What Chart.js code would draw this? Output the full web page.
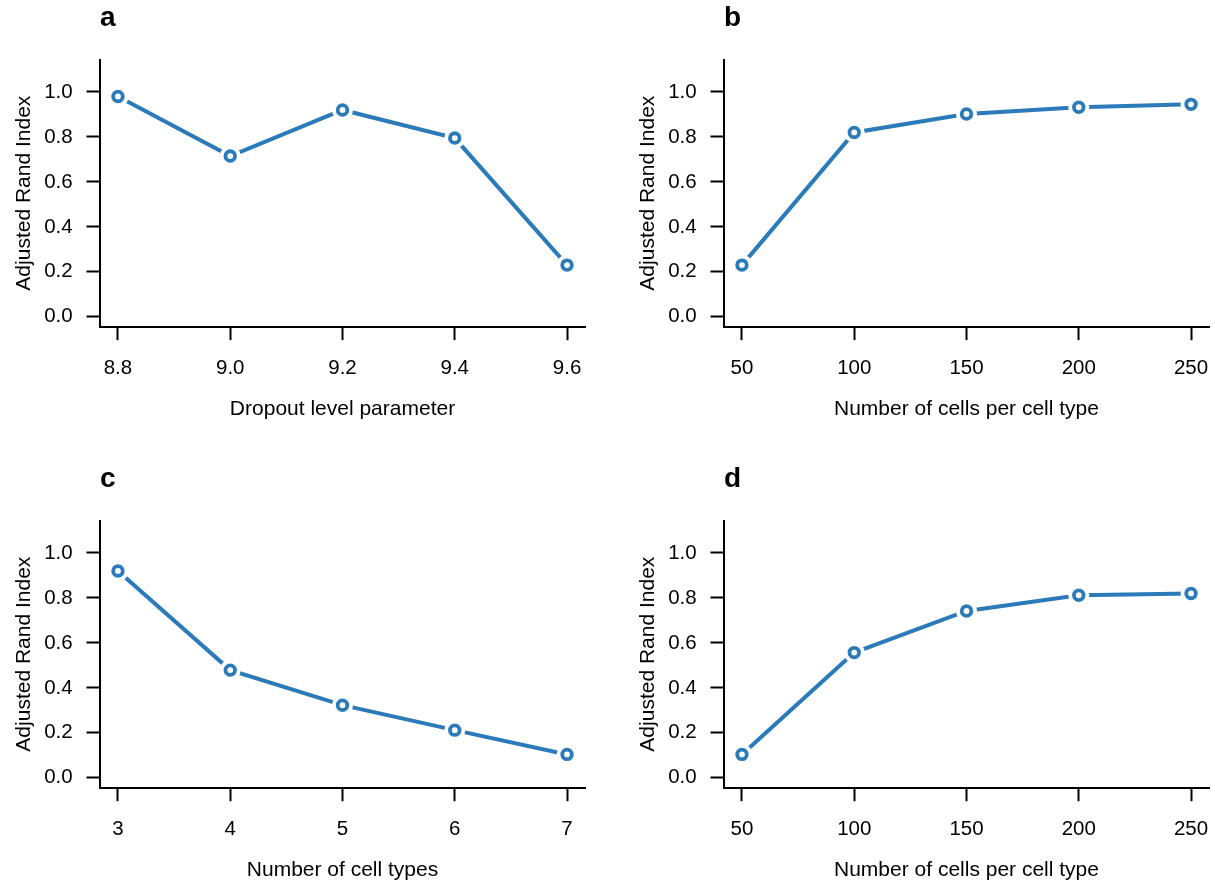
<!DOCTYPE html>
<html>
<head>
<meta charset="utf-8">
<script src="https://cdn.jsdelivr.net/npm/chart.js@4.4.1/dist/chart.umd.min.js"></script>
<style>
  html, body { margin: 0; padding: 0; background: #fff; overflow: hidden; }
  #wrap { position: relative; width: 1215px; height: 883px; }
  canvas { position: absolute; }
</style>
</head>
<body>
<div id="wrap">
  <canvas id="pa" width="591" height="422" style="left:0px;top:0px"></canvas>
  <canvas id="pb" width="591" height="422" style="left:624px;top:0px"></canvas>
  <canvas id="pc" width="591" height="422" style="left:0px;top:461px"></canvas>
  <canvas id="pd" width="591" height="422" style="left:624px;top:461px"></canvas>
</div>
<script>
// ---- data ----
const yTitle = "Adjusted Rand Index";
const yTickValues = [0, 0.2, 0.4, 0.6, 0.8, 1.0];
const yTickLabels = ["0.0", "0.2", "0.4", "0.6", "0.8", "1.0"];

const aLetter = "a";
const aXTitle = "Dropout level parameter";
const aX = [8.8, 9.0, 9.2, 9.4, 9.6];
const aXLabels = ["8.8", "9.0", "9.2", "9.4", "9.6"];
const aY = [0.98, 0.715, 0.92, 0.795, 0.23];

const bLetter = "b";
const bXTitle = "Number of cells per cell type";
const bX = [50, 100, 150, 200, 250];
const bXLabels = ["50", "100", "150", "200", "250"];
const bY = [0.23, 0.82, 0.902, 0.932, 0.945];

const cLetter = "c";
const cXTitle = "Number of cell types";
const cX = [3, 4, 5, 6, 7];
const cXLabels = ["3", "4", "5", "6", "7"];
const cY = [0.92, 0.479, 0.323, 0.212, 0.104];

const dLetter = "d";
const dXTitle = "Number of cells per cell type";
const dX = [50, 100, 150, 200, 250];
const dXLabels = ["50", "100", "150", "200", "250"];
const dY = [0.104, 0.557, 0.742, 0.812, 0.82];

// ---- styling ----
const BLUE = "#2b7bba";
const FONT = "'Liberation Sans', Arial, Helvetica, sans-serif";
Chart.defaults.font.family = FONT;
Chart.defaults.color = "#000";

function makePanel(id, letter, xTitle, xs, ys, xTickLabels) {
  const pts = xs.map((x, i) => ({ x: x, y: ys[i] }));
  const xr = xs[xs.length - 1] - xs[0];
  const xMin = xs[0] - 0.04 * xr, xMax = xs[xs.length - 1] + 0.04 * xr;
  const yr = 1.1;
  const yMin = -0.04 * yr, yMax = 1.1 + 0.04 * yr;
  const axisGrid = { display: true, drawOnChartArea: false, drawTicks: true, tickLength: 13.5, tickWidth: 2, tickColor: "#000" };
  const axisBorder = { display: true, color: "#000", width: 2 };
  return new Chart(document.getElementById(id), {
    type: "line",
    data: {
      datasets: [
        { data: pts, borderColor: BLUE, borderWidth: 4, pointRadius: 0, order: 3, clip: false, tension: 0 },
        { data: pts, showLine: false, pointRadius: 10.5, pointBackgroundColor: "#fff", pointBorderWidth: 0, pointBorderColor: "#fff", order: 2, clip: false },
        { data: pts, showLine: false, pointRadius: 4.8, pointBackgroundColor: "#fff", pointBorderColor: BLUE, pointBorderWidth: 3.8, order: 1, clip: false }
      ]
    },
    options: {
      responsive: false,
      animation: false,
      devicePixelRatio: 1,
      layout: { autoPadding: false, padding: { left: 0, top: 0, right: 6, bottom: 0 } },
      plugins: {
        legend: { display: false },
        tooltip: { enabled: false },
        title: {
          display: true, text: letter, align: "start", fullSize: false,
          font: { size: 28, weight: "bold", lineHeight: 1 },
          padding: { top: 4.5, bottom: 27.1 }, color: "#000"
        }
      },
      scales: {
        x: {
          type: "linear", min: xMin, max: xMax,
          afterBuildTicks: (s) => { s.ticks = xs.map(v => ({ value: v })); },
          afterFit: (s) => { s.height = 95.3; s.paddingLeft = 0; s.paddingRight = 0; },
          ticks: { callback: (v, i) => xTickLabels[i], font: { size: 20.5 }, padding: 16.3, maxRotation: 0, autoSkip: false },
          grid: axisGrid, border: axisBorder,
          title: { display: true, text: xTitle, font: { size: 21 }, padding: { top: 0, bottom: 0 } }
        },
        y: {
          type: "linear", min: yMin, max: yMax,
          afterBuildTicks: (s) => { s.ticks = yTickValues.map(v => ({ value: v })); },
          afterFit: (s) => { s.width = 100; s.paddingTop = 0; s.paddingBottom = 0; },
          ticks: { callback: (v, i) => yTickLabels[i], font: { size: 20.5 }, padding: 13.8, autoSkip: false },
          grid: axisGrid, border: axisBorder,
          title: { display: true, text: yTitle, font: { size: 21 }, padding: { top: 12, bottom: 0 } }
        }
      }
    }
  });
}

makePanel("pa", aLetter, aXTitle, aX, aY, aXLabels);
makePanel("pb", bLetter, bXTitle, bX, bY, bXLabels);
makePanel("pc", cLetter, cXTitle, cX, cY, cXLabels);
makePanel("pd", dLetter, dXTitle, dX, dY, dXLabels);
</script>
</body>
</html>
